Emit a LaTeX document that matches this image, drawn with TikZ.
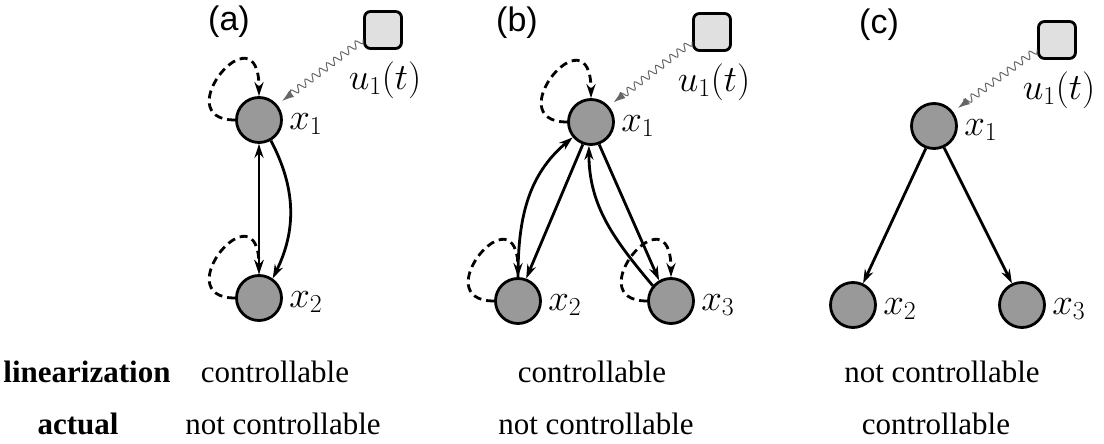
\RequirePackage{fix-cm}
\documentclass[tikz,border=0pt]{standalone}
\usepackage{fontspec}
\setmainfont{Liberation Serif}
\newfontfamily\panelfont{Liberation Sans}
\usetikzlibrary{positioning,arrows.meta,decorations.pathmorphing}
\definecolor{nodegray}{gray}{0.6}
\definecolor{inputgray}{gray}{0.88}
\definecolor{wavegray}{gray}{0.4}

\begin{document}
\begin{tikzpicture}[x=1pt, y=1pt, >={Stealth[length=14pt,width=9pt]}, line width=2.8pt,
    state/.style={draw, circle, fill=nodegray, minimum size=45pt, inner sep=0pt},
    input/.style={draw, rectangle, rounded corners=6pt, fill=inputgray, minimum size=37pt, inner sep=0pt},
    lbl/.style={inner sep=1pt, font=\fontsize{37}{40}\selectfont},
    panel/.style={font=\panelfont\fontsize{34}{38}\selectfont},
    txt/.style={anchor=base, font=\fontsize{31}{36}\selectfont},
    selfloop/.style={->, dash pattern=on 8pt off 5pt},
    signal/.style={-{Latex[length=12pt,width=8pt]}, wavegray, line width=1pt, shorten >=6pt,
        decorate, decoration={snake, amplitude=3.5pt, segment length=9pt, post length=13pt}}]
    \useasboundingbox (0,0) rectangle (1104,444);

    % (a) two states
    \node [panel] (pa) at (229,422) {(a)};
    \node [state] (a1) at (259,324) {};
    \node [state] (a2) at (259,146) {};
    \node [input] (ua) at (383,414) {};
    \node [lbl, right=4pt of a1, yshift=-4pt] (a1l) {$x_1$};
    \node [lbl, right=4pt of a2, yshift=-4pt] (a2l) {$x_2$};
    \node [lbl, below=9pt of ua, xshift=2pt] (ual) {$u_1(t)$};

    \draw[<->] (a1) -- (a2);
    \draw[->] (a1.-60) to[bend left=27] (a2.55);
    \draw[selfloop] (a1.west) .. controls +(-70,0) and +(0,90) .. (a1.north);
    \draw[selfloop] (a2.west) .. controls +(-70,0) and +(0,90) .. (a2.north);
    \draw[signal] (ua.205) -- (a1.40);

    % (b) three states, all coupled to x1
    \node [panel] (pb) at (517,421) {(b)};
    \node [state] (b1) at (591,322) {};
    \node [state] (b2) at (518,143) {};
    \node [state] (b3) at (671,143) {};
    \node [input] (ub) at (712,412) {};
    \node [lbl, right=4pt of b1, yshift=-4pt] (b1l) {$x_1$};
    \node [lbl, right=4pt of b2, yshift=-4pt] (b2l) {$x_2$};
    \node [lbl, right=4pt of b3, yshift=-4pt] (b3l) {$x_3$};
    \node [lbl, below=9pt of ub, xshift=2pt] (ubl) {$u_1(t)$};

    \draw[->] (b1.250) -- (b2.70);
    \draw[->] (b2.north) to[out=90, in=220] (b1.220);
    \draw[->] (b1.290) -- (b3.120);
    \draw[->] (b3.140) to[out=130, in=-90] (b1.265);
    \draw[selfloop] (b1.west) .. controls +(-70,0) and +(0,90) .. (b1.north);
    \draw[selfloop] (b2.west) .. controls +(-70,0) and +(0,90) .. (b2.north);
    \draw[selfloop] (b3.west) .. controls +(-70,0) and +(0,90) .. (b3.north);
    \draw[signal] (ub.206) -- (b1.42);

    % (c) tree
    \node [panel] (pc) at (879,419) {(c)};
    \node [state] (c1) at (934,318) {};
    \node [state] (c2) at (853,139) {};
    \node [state] (c3) at (1022,139) {};
    \node [input] (uc) at (1057,404) {};
    \node [lbl, right=4pt of c1, yshift=-4pt] (c1l) {$x_1$};
    \node [lbl, right=4pt of c2, yshift=-4pt] (c2l) {$x_2$};
    \node [lbl, right=4pt of c3, yshift=-4pt] (c3l) {$x_3$};
    \node [lbl, below=9pt of uc, xshift=2pt] (ucl) {$u_1(t)$};

    \draw[->] (c1.250) -- (c2.65);
    \draw[->] (c1.295) -- (c3.115);
    \draw[signal] (uc.206) -- (c1.37);

    % table below
    \node [txt] (linhead) at (87,61) {\bfseries linearization};
    \node [txt] (lina) at (275,61) {controllable};
    \node [txt] (linb) at (592,61) {controllable};
    \node [txt] (linc) at (942,61) {not controllable};
    \node [txt] (acthead) at (78,9) {\bfseries actual};
    \node [txt] (acta) at (283,9) {not controllable};
    \node [txt] (actb) at (596,9) {not controllable};
    \node [txt] (actc) at (936,9) {controllable};
\end{tikzpicture}
\end{document}
